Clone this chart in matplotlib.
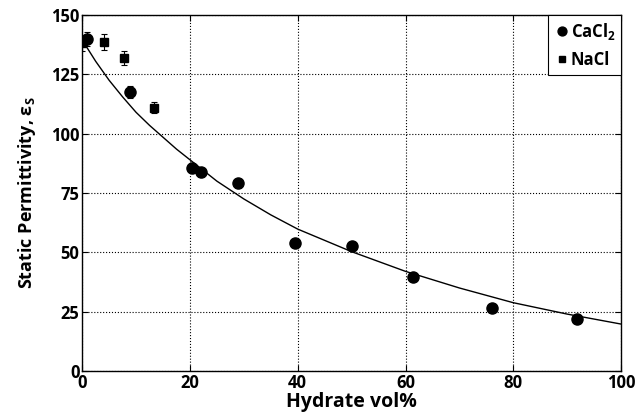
import matplotlib
matplotlib.use("Agg")
import matplotlib.pyplot as plt

plt.rcParams['font.family'] = ['Open Sans', 'DejaVu Sans']
plt.rcParams['mathtext.fontset'] = 'custom'
plt.rcParams['mathtext.rm'] = 'Open Sans'
plt.rcParams['mathtext.bf'] = 'Open Sans:bold'

cacl2_x = [0.9, 8.8, 20.3, 22.1, 29.0, 39.4, 50.0, 61.3, 76.1, 91.9]
cacl2_y = [139.8, 117.7, 85.7, 83.7, 79.1, 54.1, 52.8, 39.7, 26.4, 21.9]
cacl2_err = [3.0, 2.5, 1.8, 1.8, 2.0, 1.5, 1.5, 1.0, 1.0, 1.0]

nacl_x = [0.0, 4.0, 7.7, 13.3]
nacl_y = [138.0, 138.6, 132.0, 111.0]
nacl_err = [3.0, 3.5, 3.0, 2.5]

# fitted curve, read at a few positions
fit_x = [0, 2.5, 5, 7.5, 10, 12.5, 15, 17.5, 20, 25, 30, 35, 40, 50, 60, 70, 80, 90, 100]
fit_y = [139.5, 130.5, 122.5, 115.5, 109.0, 103.5, 98.5, 93.5, 89.0, 80.0, 72.5, 65.8,
         59.8, 50.3, 42.0, 35.0, 28.8, 24.0, 19.8]

xticks = [0, 20, 40, 60, 80, 100]
yticks = [0, 25, 50, 75, 100, 125, 150]

fig = plt.figure(figsize=(6.37, 4.16), dpi=100)
ax = fig.add_axes([0.129, 0.108, 0.846, 0.856])

ax.plot(fit_x, fit_y, color='black', lw=1.0, zorder=2)
ax.errorbar(cacl2_x, cacl2_y, yerr=cacl2_err, fmt='none', ecolor='black',
            capsize=2.5, elinewidth=0.8, capthick=0.8, zorder=3)
ax.errorbar(nacl_x, nacl_y, yerr=nacl_err, fmt='none', ecolor='black',
            capsize=2.5, elinewidth=0.8, capthick=0.8, zorder=3)
ax.plot(cacl2_x, cacl2_y, 'o', color='black', ms=8, label='CaCl$_\\mathbf{2}$', zorder=4)
ax.plot(nacl_x, nacl_y, 's', color='black', ms=6, label='NaCl', zorder=4)

ax.set_xlim(0, 100)
ax.set_ylim(0, 150)
ax.set_xticks(xticks)
ax.set_yticks(yticks)
ax.grid(True, color='black', linestyle=':', linewidth=0.8)
ax.tick_params(direction='in', top=True, right=True, length=4, labelsize=12, pad=2)
for lab in ax.get_xticklabels() + ax.get_yticklabels():
    lab.set_fontweight('bold')
for s in ax.spines.values():
    s.set_linewidth(1.0)

ax.set_xlabel('Hydrate vol%', fontsize=14, fontweight='bold', labelpad=0)
ax.set_ylabel('Static Permittivity, ε$_\\mathbf{S}$', fontsize=13, fontweight='bold', labelpad=9)

leg = ax.legend(loc='upper right', handletextpad=0.0, handlelength=1.0,
                borderaxespad=0.0, fancybox=False, framealpha=1, markerscale=0.8,
                borderpad=0.35, labelspacing=0.55,
                prop={'size': 12, 'weight': 'bold'})
leg.get_frame().set_edgecolor('black')
leg.get_frame().set_linewidth(0.8)

fig.savefig('out.png', dpi=100)
